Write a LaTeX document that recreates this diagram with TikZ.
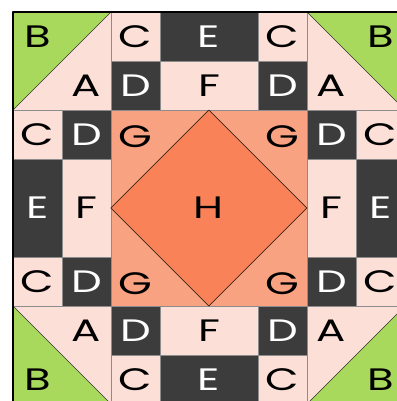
\documentclass[tikz,border=0pt]{standalone}
\usepackage{fontspec}
\setmainfont{Poppins}[FakeStretch=1.4]
\definecolor{patchgreen}{HTML}{A8D85C}
\definecolor{patchpink}{HTML}{FCE0D8}
\definecolor{patchdark}{HTML}{3D3C3C}
\definecolor{patchsalmon}{HTML}{F9A282}
\definecolor{patchorange}{HTML}{FA8259}

\begin{document}
\begin{tikzpicture}[x=1cm, y=-1cm, line join=round,
    every node/.style={font=\fontsize{18}{18}\selectfont},
    seam/.style={draw=black!45, line width=0.3pt},
    light/.style={seam, fill=patchpink},
    dark/.style={seam, fill=patchdark},
    ondark/.style={text=white}]
  \fill[white] (-0.265,-0.245) rectangle (7.837,7.939);
  \useasboundingbox (-0.265,-0.245) rectangle (7.837,7.939);
  \clip (-0.265,-0.245) rectangle (7.837,7.939);

  % corner squares, half-square triangles
  \foreach \x/\y in {0/0,6/0,0/6,6/6}
    \draw[light] (\x,\y) rectangle ++(2,2);
  \fill[patchgreen] (0,0) -- (2,0) -- (0,2) -- cycle;
  \fill[patchgreen] (6,0) -- (8,0) -- (8,2) -- cycle;
  \fill[patchgreen] (0,6) -- (0,8) -- (2,8) -- cycle;
  \fill[patchgreen] (8,6) -- (8,8) -- (6,8) -- cycle;
  \draw[seam, draw=black!80] (0,2) -- (2,0);
  \draw[seam, draw=black!80] (6,0) -- (8,2);
  \draw[seam, draw=black!80] (0,6) -- (2,8);
  \draw[seam, draw=black!80] (6,8) -- (8,6);

  % small squares
  \foreach \x/\y [count=\i] in {2/0,5/0,0/2,7/2,0/5,7/5,2/7,5/7} {
    \draw[light] (\x,\y) rectangle ++(1,1);
    \node (c\i) at (\x+0.5,\y+0.5) {C};
  }
  \foreach \x/\y [count=\i] in {2/1,5/1,1/2,6/2,1/5,6/5,2/6,5/6} {
    \draw[dark] (\x,\y) rectangle ++(1,1);
    \node[ondark] (d\i) at (\x+0.5,\y+0.5) {D};
  }

  % long bars
  \draw[dark] (3,0) rectangle (5,1);
  \draw[dark] (0,3) rectangle (1,5);
  \draw[dark] (7,3) rectangle (8,5);
  \draw[dark] (3,7) rectangle (5,8);
  \draw[light] (3,1) rectangle (5,2);
  \draw[light] (1,3) rectangle (2,5);
  \draw[light] (6,3) rectangle (7,5);
  \draw[light] (3,6) rectangle (5,7);

  % centre square on point
  \draw[seam, fill=patchsalmon] (2,2) rectangle (6,6);
  \draw[fill=patchorange, draw=black!70!brown, line width=0.4pt]
    (4,2) -- (6,4) -- (4,6) -- (2,4) -- cycle;

  \draw[line width=0.9pt] (0,0) rectangle (8,8);

  \node (bNW) at (0.5,0.5) {B};
  \node (aNW) at (1.5,1.5) {A};
  \node (bNE) at (7.5,0.5) {B};
  \node (aNE) at (6.5,1.5) {A};
  \node (aSW) at (1.5,6.5) {A};
  \node (bSW) at (0.5,7.5) {B};
  \node (aSE) at (6.5,6.5) {A};
  \node (bSE) at (7.5,7.5) {B};

  \node[ondark] (eN) at (4,0.5) {E};
  \node[ondark] (eW) at (0.5,4) {E};
  \node[ondark] (eE) at (7.5,4) {E};
  \node[ondark] (eS) at (4,7.5) {E};
  \node (fN) at (4,1.5) {F};
  \node (fW) at (1.5,4) {F};
  \node (fE) at (6.5,4) {F};
  \node (fS) at (4,6.5) {F};

  \node (gNW) at (2.5,2.55) {G};
  \node (gNE) at (5.5,2.55) {G};
  \node (gSW) at (2.5,5.55) {G};
  \node (gSE) at (5.5,5.55) {G};
  \node (h) at (4,4) {H};
\end{tikzpicture}
\end{document}
